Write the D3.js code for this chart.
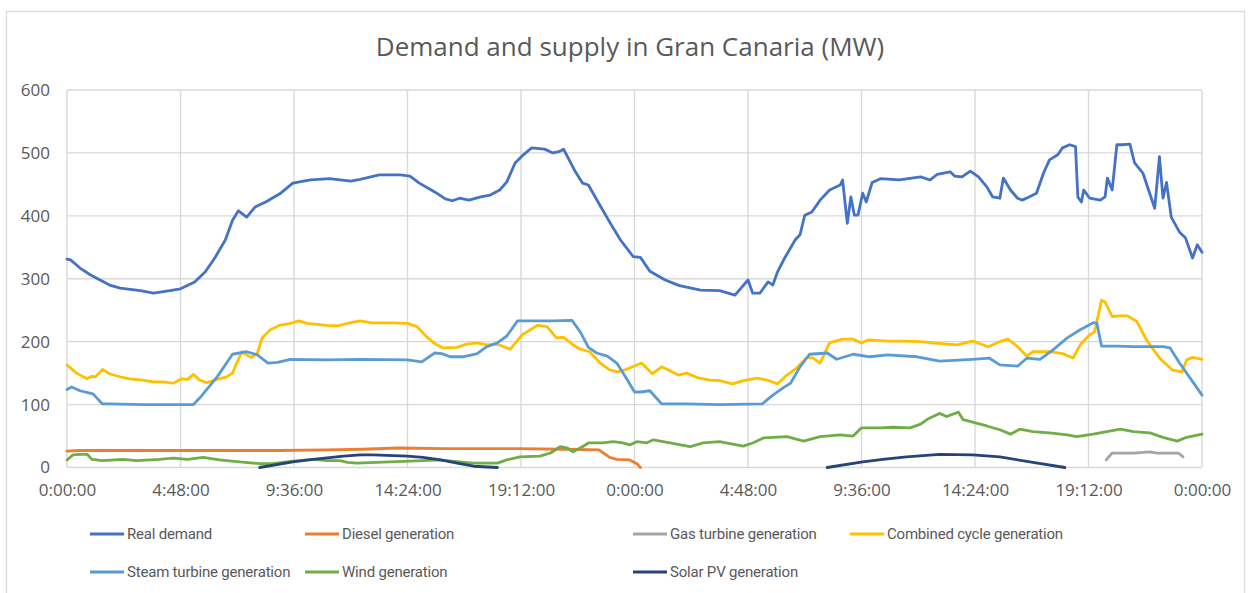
<!DOCTYPE html>
<html>
<head>
<meta charset="utf-8">
<script src="https://cdn.jsdelivr.net/npm/d3@7/dist/d3.min.js"></script>
<style>
  body { margin: 0; background: #fff; }
  .tick-label { font-family: "Open Sans", sans-serif; font-size: 17px; fill: #595959; }
  .legend-label { font-family: Roboto, sans-serif; font-size: 15px; letter-spacing: -0.2px; fill: #595959; }
</style>
</head>
<body>
<svg id="chart" width="1254" height="593"></svg>
<script>
// values, as [hour since start, MW]
var demand = [[0,331],[0.15,330],[0.55,317],[1.0,306],[1.4,298],[1.8,290],[2.25,285],[3.1,281],[3.65,277],[4.35,281],[4.8,284],[5.4,295],[5.85,311],[6.25,333],[6.7,362],[7.0,393],[7.25,408],[7.6,398],[7.95,414],[8.4,422],[9.0,435],[9.55,452],[10.3,457],[11.1,459],[12.0,455],[12.4,458],[13.2,465],[14.1,465],[14.5,463],[14.9,452],[15.55,438],[16.0,427],[16.3,424],[16.6,428],[17.0,425],[17.5,430],[17.9,433],[18.3,441],[18.6,454],[18.95,484],[19.3,497],[19.65,508],[20.2,506],[20.55,500],[20.8,502],[21.0,506],[21.5,470],[21.8,452],[22.05,449],[22.55,416],[22.95,390],[23.4,362],[23.95,335],[24.25,334],[24.65,312],[25.3,298],[25.9,289],[26.8,282],[27.6,281],[28.25,274],[28.8,298],[29.0,277],[29.3,277],[29.65,295],[29.85,290],[30.05,311],[30.35,333],[30.8,362],[31.0,370],[31.2,401],[31.5,406],[31.85,425],[32.25,441],[32.7,449],[32.8,457],[33.0,388],[33.15,430],[33.3,401],[33.45,401],[33.65,436],[33.8,422],[34.05,453],[34.4,459],[35.2,457],[36.1,462],[36.5,457],[36.8,466],[37.35,470],[37.55,463],[37.85,462],[38.2,471],[38.55,462],[38.9,446],[39.15,430],[39.45,428],[39.6,460],[39.9,441],[40.2,428],[40.4,425],[40.75,431],[41.0,436],[41.3,468],[41.55,489],[41.9,497],[42.1,508],[42.4,513],[42.65,510],[42.75,430],[42.9,422],[43.0,441],[43.25,428],[43.7,425],[43.9,430],[44.0,460],[44.2,441],[44.4,513],[44.6,513],[44.95,514],[45.15,484],[45.5,468],[46.0,412],[46.2,494],[46.35,428],[46.5,453],[46.7,398],[47.05,374],[47.3,365],[47.6,333],[47.8,354],[48,342]];

var diesel = [[0,26],[0.5,27],[5,27],[9,27],[11,28],[12.5,29],[14,31],[16,30],[19,30],[21,29],[22.5,28],[22.95,16],[23.25,13],[23.8,12],[24.1,6],[24.25,0]];

var gasTurbine = [[43.95,12],[44.2,23],[45.1,23],[45.8,25],[46.1,23],[47.0,23],[47.2,17]];

var combinedCycle = [[0,163],[0.4,150],[0.85,141],[1.05,145],[1.2,144],[1.5,156],[1.8,149],[2.25,144],[2.65,141],[3.2,139],[3.65,136],[4.05,136],[4.5,134],[4.85,141],[5.1,140],[5.35,148],[5.6,139],[5.9,135],[6.35,140],[6.75,144],[7.0,150],[7.2,168],[7.4,184],[7.6,179],[7.8,175],[8.05,182],[8.25,206],[8.6,219],[9.0,226],[9.45,229],[9.8,233],[10.15,229],[11.0,226],[11.45,225],[11.95,230],[12.4,233],[12.9,230],[13.8,230],[14.4,229],[14.8,224],[15.2,208],[15.55,197],[15.9,190],[16.5,191],[16.9,196],[17.35,198],[17.75,195],[18.2,196],[18.75,188],[19.25,211],[19.6,219],[19.9,226],[20.3,224],[20.7,206],[21.0,207],[21.4,195],[21.7,188],[22.1,184],[22.55,166],[22.95,155],[23.3,152],[23.65,156],[24.1,163],[24.3,166],[24.75,149],[25.15,160],[25.6,152],[25.85,147],[26.2,150],[26.65,143],[27.2,139],[27.6,138],[28.15,133],[28.6,138],[29.2,142],[29.6,139],[30.05,133],[30.45,147],[30.85,158],[31.3,175],[31.55,174],[31.85,166],[32.25,198],[32.8,204],[33.25,204],[33.6,198],[33.9,203],[34.7,201],[35.35,201],[36.1,200],[36.6,198],[37.65,195],[38.3,201],[38.95,192],[39.45,200],[39.8,204],[40.2,192],[40.6,177],[40.85,184],[41.55,184],[42.1,181],[42.55,174],[42.85,195],[43.25,211],[43.45,215],[43.6,240],[43.75,266],[43.9,263],[44.2,240],[44.55,241],[44.85,241],[45.25,232],[45.65,203],[46.2,174],[46.75,155],[47.15,152],[47.35,171],[47.6,175],[48,172]];

var steamTurbine = [[0,124],[0.2,128],[0.55,122],[1.1,117],[1.5,101],[1.8,101],[3.2,100],[5.35,100],[5.6,110],[6.35,144],[7.0,180],[7.6,184],[8.05,179],[8.5,166],[8.9,167],[9.45,172],[11.0,171],[12.4,172],[14.4,171],[15.0,168],[15.55,182],[15.85,181],[16.2,176],[16.75,176],[17.35,181],[17.75,192],[18.2,198],[18.6,209],[19.05,233],[19.7,233],[20.55,233],[21.35,234],[21.7,216],[22.05,191],[22.4,182],[22.85,177],[23.25,166],[23.7,139],[24.0,120],[24.25,120],[24.65,122],[25.15,101],[26.2,101],[27.6,100],[29.4,101],[29.85,115],[30.3,127],[30.6,134],[31.0,160],[31.4,180],[32.15,182],[32.55,172],[33.25,180],[33.95,176],[34.7,179],[35.95,176],[36.9,169],[38.3,172],[39.0,174],[39.45,163],[40.2,161],[40.6,174],[41.15,172],[41.7,187],[42.3,206],[42.85,219],[43.4,230],[43.55,230],[43.75,193],[44.4,193],[45.1,192],[46.35,192],[46.65,190],[47.05,166],[47.5,142],[48,115]];

var wind = [[0,12],[0.25,20],[0.55,21],[0.85,21],[1.05,13],[1.5,11],[2.35,13],[2.95,11],[3.9,13],[4.5,15],[5.1,13],[5.75,16],[6.45,12],[7.3,9],[8.15,6],[8.7,6],[9.55,10],[10.4,13],[11.0,11],[11.55,11],[11.85,8],[12.25,7],[13.65,9],[15.05,11],[15.75,12],[17.15,7],[18.2,7],[18.6,12],[19.15,17],[20.0,18],[20.45,23],[20.85,33],[21.15,31],[21.4,25],[21.8,33],[22.05,39],[22.65,39],[23.1,41],[23.5,39],[23.8,36],[24.1,41],[24.5,39],[24.8,44],[25.5,39],[26.35,33],[26.9,39],[27.6,41],[28.15,37],[28.6,34],[29.0,39],[29.45,47],[30.45,49],[31.15,42],[31.85,49],[32.7,52],[33.25,50],[33.6,63],[34.4,63],[34.95,64],[35.65,63],[36.1,69],[36.4,77],[36.9,86],[37.2,81],[37.7,88],[37.9,76],[38.3,72],[38.9,66],[39.45,60],[39.9,53],[40.3,61],[40.85,57],[41.55,55],[42.3,52],[42.7,49],[43.4,53],[44.55,61],[45.1,57],[45.8,55],[46.35,48],[46.95,42],[47.35,48],[48,53]];

var solarPV = [[8.15,0],[9.55,9],[10.4,13],[11.7,18],[12.4,20],[12.95,20],[14.4,18],[15.05,16],[15.8,12],[16.5,7],[17.2,2],[18.2,0],
  [24,null],
  [32.15,0],[33.65,9],[34.5,13],[35.5,17],[36.9,21],[38.3,20],[39.45,17],[40.85,8],[42.2,0]];

var seriesNames = ["Real demand", "Diesel generation", "Gas turbine generation", "Combined cycle generation",
                   "Steam turbine generation", "Wind generation", "Solar PV generation"];
var seriesColors = ["#4472C4", "#ED7D31", "#A5A5A5", "#FFC000", "#5B9BD5", "#70AD47", "#264478"];
var seriesData = [demand, diesel, gasTurbine, combinedCycle, steamTurbine, wind, solarPV];

var xTickHours = [0, 4.8, 9.6, 14.4, 19.2, 24, 28.8, 33.6, 38.4, 43.2, 48];
var xTickLabels = ["0:00:00", "4:48:00", "9:36:00", "14:24:00", "19:12:00", "0:00:00",
                   "4:48:00", "9:36:00", "14:24:00", "19:12:00", "0:00:00"];
var yTicks = [0, 100, 200, 300, 400, 500, 600];

var svg = d3.select("#chart");

// chart frame
svg.append("rect")
    .attr("x", 6.5).attr("y", 11.5)
    .attr("width", 1238).attr("height", 600)
    .attr("fill", "#fff")
    .attr("stroke", "#d9d9d9")
    .attr("stroke-width", 1.3);

svg.append("text")
    .attr("x", 630).attr("y", 56)
    .attr("text-anchor", "middle")
    .style("font-family", "'Open Sans', sans-serif")
    .style("font-size", "26px")
    .style("fill", "#595959")
    .text("Demand and supply in Gran Canaria (MW)");

var margin = { left: 67, right: 1202, top: 90, bottom: 467.5 };

var x = d3.scaleLinear().domain([0, 48]).range([margin.left, margin.right]);
var y = d3.scaleLinear().domain([0, 600]).range([margin.bottom, margin.top]);

// gridlines
var grid = svg.append("g");
grid.selectAll("line.h")
    .data(yTicks)
    .join("line")
    .attr("x1", margin.left).attr("x2", margin.right)
    .attr("y1", function (d) { return y(d); })
    .attr("y2", function (d) { return y(d); })
    .attr("stroke", "#d9d9d9")
    .attr("stroke-width", 1.4);
grid.selectAll("line.v")
    .data(xTickHours)
    .join("line")
    .attr("x1", function (d) { return x(d); })
    .attr("x2", function (d) { return x(d); })
    .attr("y1", margin.top).attr("y2", margin.bottom)
    .attr("stroke", "#d9d9d9")
    .attr("stroke-width", 1.4);

// axes (labels only, Excel style)
var yAxis = svg.append("g")
    .attr("transform", "translate(" + (margin.left - 17) + ",0)")
    .call(d3.axisLeft(y).tickValues(yTicks).tickSize(0).tickPadding(0));
var xAxis = svg.append("g")
    .attr("transform", "translate(0," + (margin.bottom + 16) + ")")
    .call(d3.axisBottom(x).tickValues(xTickHours).tickSize(0).tickPadding(0)
        .tickFormat(function (d, i) { return xTickLabels[i]; }));
[xAxis, yAxis].forEach(function (a) {
    a.select(".domain").remove();
    a.selectAll("text").attr("class", "tick-label").attr("fill", null);
});

// series lines
var line = d3.line()
    .defined(function (d) { return d[1] != null; })
    .x(function (d) { return x(d[0]); })
    .y(function (d) { return y(d[1]); });

svg.append("g")
    .selectAll("path")
    .data(seriesData)
    .join("path")
    .attr("d", line)
    .attr("fill", "none")
    .attr("stroke", function (d, i) { return seriesColors[i]; })
    .attr("stroke-width", 2.8)
    .attr("stroke-linejoin", "round")
    .attr("stroke-linecap", "round");

// legend
var legendX = [90, 305, 633, 850];
var legendY = [534, 572];
var legend = svg.append("g")
    .selectAll("g")
    .data(seriesNames)
    .join("g")
    .attr("transform", function (d, i) {
        return "translate(" + legendX[i % 4] + "," + legendY[Math.floor(i / 4)] + ")";
    });
legend.append("line")
    .attr("x1", 0).attr("x2", 34)
    .attr("stroke", function (d, i) { return seriesColors[i]; })
    .attr("stroke-width", 2.8);
legend.append("text")
    .attr("class", "legend-label")
    .attr("x", 37)
    .attr("dy", "0.35em")
    .text(function (d) { return d; });
</script>
</body>
</html>
